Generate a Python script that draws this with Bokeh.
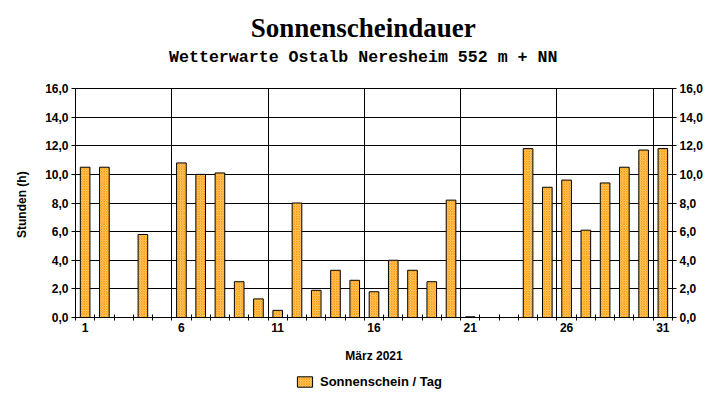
from bokeh.plotting import figure
from bokeh.layouts import column
from bokeh.models import (Range1d, LinearAxis, FixedTicker, CustomJSTickFormatter,
                          Label, Legend, LegendItem, ColumnDataSource)
from bokeh.embed import file_html
from bokeh.resources import INLINE

# Data
days = list(range(1, 32))
hours = [10.5, 10.5, 0.0, 5.8, 0.0, 10.8, 10.0, 10.1, 2.5, 1.3,
         0.5, 8.0, 1.9, 3.3, 2.6, 1.8, 4.0, 3.3, 2.5, 8.2,
         0.05, 0.0, 0.0, 11.8, 9.1, 9.6, 6.1, 9.4, 10.5, 11.7, 11.8]
x_tick_labels = [1, 6, 11, 16, 21, 26, 31]
y_ticks = [0, 2, 4, 6, 8, 10, 12, 14, 16]
title_text = "Sonnenscheindauer"
subtitle_text = "Wetterwarte Ostalb Neresheim 552 m + NN"
x_label = "März 2021"
y_label = "Stunden  (h)"
legend_label = "Sonnenschein / Tag"

BAR_STYLE = dict(fill_color="#FFE6B3", hatch_pattern="diagonal_cross", hatch_color="#FF9900",
                 hatch_scale=2.5, hatch_weight=1, line_color="black", line_width=1)


def strip(height):
    f = figure(width=720, height=height, output_backend="svg", toolbar_location=None,
               x_range=Range1d(0, 1), y_range=Range1d(0, 1),
               x_axis_type=None, y_axis_type=None,
               min_border_left=0, min_border_right=0, min_border_top=0, min_border_bottom=0)
    f.outline_line_color = None
    f.background_fill_color = "white"
    f.border_fill_color = "white"
    f.grid.visible = False
    return f


# ---- title strip ----
tf = strip(80)
tf.add_layout(Label(x=0.482, y=0.6625, text=title_text, text_align="center",
                    text_baseline="middle", text_font="Liberation Serif",
                    text_font_style="bold", text_font_size="27px", text_color="black"))
tf.add_layout(Label(x=0.482, y=0.29, text=subtitle_text, text_align="center",
                    text_baseline="middle", text_font="Liberation Mono",
                    text_font_style="bold", text_font_size="16.6px", text_color="black"))

# ---- main chart ----
src = ColumnDataSource(dict(day=days, hours=hours))

p = figure(width=720, height=285, output_backend="svg", toolbar_location=None,
           x_range=Range1d(0.5, 31.5), y_range=Range1d(0, 16),
           min_border_left=75, min_border_right=48, min_border_top=8, min_border_bottom=48)
p.background_fill_color = "white"
p.border_fill_color = "white"
p.outline_line_color = "black"
p.outline_line_width = 1

bars = p.vbar(x="day", top="hours", width=0.5, source=src, **BAR_STYLE)

fmt = CustomJSTickFormatter(code="return tick.toFixed(1).replace('.', ',');")

# x axis
xa = p.xaxis[0]
xa.ticker = FixedTicker(ticks=x_tick_labels, minor_ticks=[d + 0.5 for d in range(0, 32)])
xa.major_tick_out = 0
xa.major_tick_in = 0
xa.minor_tick_out = 3
xa.minor_tick_in = 3
xa.major_label_standoff = 2
xa.major_label_text_font = "Liberation Sans"
xa.major_label_text_font_style = "bold"
xa.major_label_text_font_size = "12px"
xa.major_label_text_color = "black"
xa.axis_label = x_label
xa.axis_label_standoff = 14
xa.axis_label_text_font = "Liberation Sans"
xa.axis_label_text_font_style = "bold"
xa.axis_label_text_font_size = "12px"
xa.axis_label_text_color = "black"
xa.axis_line_color = "black"

# y axis left
ya = p.yaxis[0]
ya.ticker = FixedTicker(ticks=y_ticks)
ya.formatter = fmt
ya.major_tick_out = 4
ya.major_tick_in = 0
ya.minor_tick_out = 0
ya.minor_tick_in = 0
ya.major_label_standoff = 3
ya.major_label_text_font = "Liberation Sans"
ya.major_label_text_font_style = "bold"
ya.major_label_text_font_size = "12px"
ya.major_label_text_color = "black"
ya.axis_label = y_label
ya.axis_label_standoff = 13
ya.axis_label_text_font = "Liberation Sans"
ya.axis_label_text_font_style = "bold"
ya.axis_label_text_font_size = "12px"
ya.axis_label_text_color = "black"
ya.axis_line_color = "black"

# y axis right
yr = LinearAxis(ticker=FixedTicker(ticks=y_ticks), formatter=fmt)
yr.major_tick_out = 4
yr.major_tick_in = 0
yr.minor_tick_out = 0
yr.minor_tick_in = 0
yr.major_label_standoff = 3
yr.major_label_text_font = "Liberation Sans"
yr.major_label_text_font_style = "bold"
yr.major_label_text_font_size = "12px"
yr.major_label_text_color = "black"
yr.axis_line_color = "black"
p.add_layout(yr, "right")

# grids
p.xgrid[0].ticker = FixedTicker(ticks=[5.5, 10.5, 15.5, 20.5, 25.5, 30.5])
p.xgrid[0].grid_line_color = "black"
p.xgrid[0].grid_line_alpha = 1
p.ygrid[0].ticker = FixedTicker(ticks=y_ticks)
p.ygrid[0].grid_line_color = "black"
p.ygrid[0].grid_line_alpha = 1

# ---- legend strip ----
lf = strip(35)
dummy = lf.vbar(x=[-1000], top=[-1000], bottom=[-1001], width=0.5, **BAR_STYLE)
legend = Legend(items=[LegendItem(label=legend_label, renderers=[dummy])],
                orientation="horizontal", location=(220, 11),
                border_line_color=None, background_fill_alpha=0,
                label_text_font="Liberation Sans", label_text_font_style="bold",
                label_text_font_size="13px", label_text_color="black",
                glyph_width=19, glyph_height=13,
                margin=0, padding=2, label_standoff=6)
lf.add_layout(legend, "center")

layout = column(tf, p, lf, spacing=0)
open("out.html", "w").write(file_html(layout, INLINE))
